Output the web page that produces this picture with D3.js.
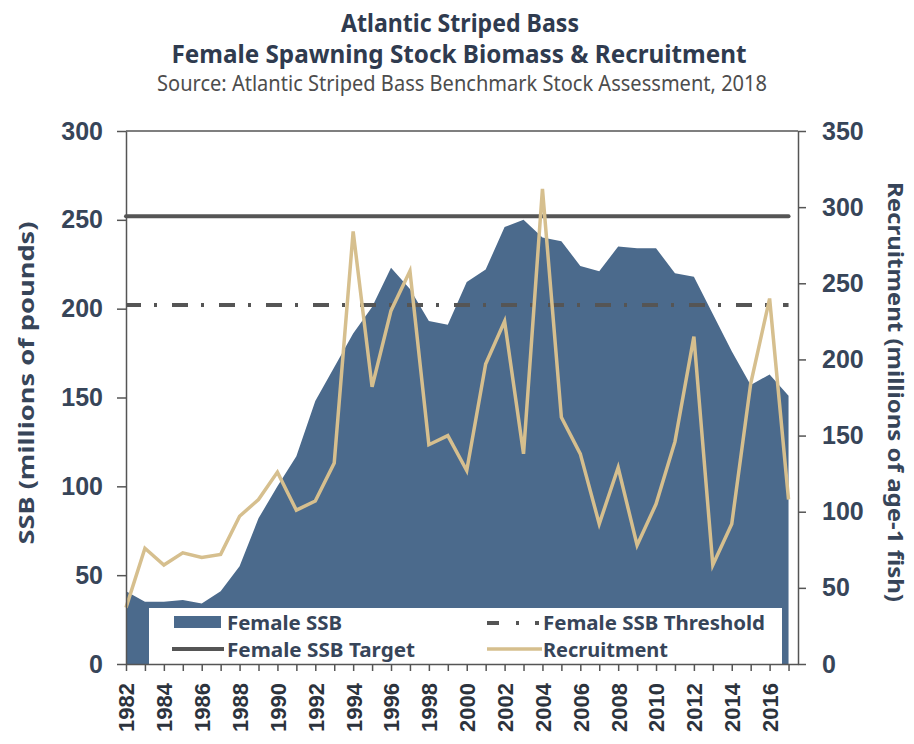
<!DOCTYPE html>
<html>
<head>
<meta charset="utf-8">
<script src="https://cdn.jsdelivr.net/npm/d3@7"></script>
<style>
  body { margin: 0; background: #fff; }
  text { font-family: "Noto Sans", "Liberation Sans", sans-serif; }
</style>
</head>
<body>
<div id="chart"></div>
<script>
// values
const years = d3.range(1982, 2018);
const ssb = [41, 35, 35, 36, 34, 41, 55, 82, 100, 117, 148, 167, 186, 201, 223, 211, 193, 191,
  215, 222, 246, 250, 240, 238, 224, 221, 235, 234, 234, 220, 218, 197, 176, 157, 163, 151];
const recruitment = [37, 76, 65, 73, 70, 72, 97, 108, 126, 101, 107, 132, 284, 182, 232, 258, 144, 150,
  127, 197, 225, 138, 312, 162, 138, 92, 129, 78, 105, 146, 215, 65, 92, 184, 240, 108];
const ssbTarget = 252;
const ssbThreshold = 202;
const leftTicks = [0, 50, 100, 150, 200, 250, 300];
const rightTicks = [0, 50, 100, 150, 200, 250, 300, 350];

const W = 914, H = 744;
const margin = { top: 131, left: 126 };
const width = 672, height = 533;

const areaColor = "#4b6a8c";
const recColor = "#d6bf8e";
const refColor = "#555";
const textColor = "#374559";

const svg = d3.select("#chart").append("svg")
    .attr("width", W)
    .attr("height", H);

// titles
const titles = [
  { t: "Atlantic Striped Bass", y: 32, size: 25, w: 238, weight: 700, fill: "#2f3b4f", cx: 460 },
  { t: "Female Spawning Stock Biomass & Recruitment", y: 63, size: 25, w: 575, weight: 700, fill: "#2f3b4f", cx: 459 },
  { t: "Source: Atlantic Striped Bass Benchmark Stock Assessment, 2018", y: 91, size: 21, w: 610, weight: 400, fill: "#4d4d4d", cx: 462 }
];
svg.selectAll("text.title").data(titles).enter().append("text")
    .attr("class", "title")
    .attr("x", d => d.cx)
    .attr("y", d => d.y)
    .attr("text-anchor", "middle")
    .attr("font-size", d => d.size)
    .attr("font-weight", d => d.weight)
    .attr("fill", d => d.fill)
    .attr("textLength", d => d.w)
    .attr("lengthAdjust", "spacingAndGlyphs")
    .text(d => d.t);

const g = svg.append("g")
    .attr("transform", "translate(" + margin.left + "," + margin.top + ")");

const x = d3.scaleLinear().domain([1982, 2017.5]).range([0, width]);
const yL = d3.scaleLinear().domain([0, 300]).range([height, 0]);
const yR = d3.scaleLinear().domain([0, 350]).range([height, 0]);

// SSB area
const area = d3.area()
    .x((d, i) => x(years[i]))
    .y0(yL(0))
    .y1(d => yL(d));
g.append("path")
    .datum(ssb)
    .attr("fill", areaColor)
    .attr("d", area);

// target & threshold
g.append("line")
    .attr("x1", x(1982)).attr("x2", x(2017))
    .attr("y1", yL(ssbTarget)).attr("y2", yL(ssbTarget))
    .attr("stroke", refColor)
    .attr("stroke-width", 4)
    .attr("stroke-linecap", "round");
g.append("line")
    .attr("x1", x(1982)).attr("x2", x(2017))
    .attr("y1", yL(ssbThreshold)).attr("y2", yL(ssbThreshold))
    .attr("stroke", refColor)
    .attr("stroke-width", 4)
    .attr("stroke-dasharray", "16,13,3,15")
    .attr("stroke-dashoffset", 1);

// recruitment line
const line = d3.line()
    .x((d, i) => x(years[i]))
    .y(d => yR(d));
g.append("path")
    .datum(recruitment)
    .attr("fill", "none")
    .attr("stroke", recColor)
    .attr("stroke-width", 3.5)
    .attr("stroke-linejoin", "miter")
    .attr("d", line);

// legend
const leg = g.append("g").attr("transform", "translate(23," + (height - 56) + ")");
leg.append("rect")
    .attr("width", 633).attr("height", 56)
    .attr("fill", "#fff");
leg.append("rect")
    .attr("x", 25).attr("y", 8).attr("width", 47).attr("height", 12)
    .attr("fill", areaColor);
leg.append("line")
    .attr("x1", 23).attr("x2", 75).attr("y1", 41).attr("y2", 41)
    .attr("stroke", refColor).attr("stroke-width", 4);
leg.append("line")
    .attr("x1", 338).attr("x2", 390).attr("y1", 15).attr("y2", 15)
    .attr("stroke", refColor).attr("stroke-width", 4)
    .attr("stroke-dasharray", "12,17,3,16");
leg.append("line")
    .attr("x1", 338).attr("x2", 393).attr("y1", 41).attr("y2", 41)
    .attr("stroke", recColor).attr("stroke-width", 3.5);
const legItems = [
  { t: "Female SSB", x: 78, y: 22, w: 115 },
  { t: "Female SSB Target", x: 78, y: 48.5, w: 188 },
  { t: "Female SSB Threshold", x: 394, y: 22, w: 222 },
  { t: "Recruitment", x: 394, y: 48.5, w: 125 }
];
leg.selectAll("text").data(legItems).enter().append("text")
    .attr("x", d => d.x).attr("y", d => d.y)
    .attr("font-size", 20)
    .attr("font-weight", 700)
    .attr("fill", textColor)
    .attr("textLength", d => d.w)
    .attr("lengthAdjust", "spacingAndGlyphs")
    .text(d => d.t);

// frame top
g.append("line")
    .attr("x1", 0).attr("x2", width).attr("y1", 0).attr("y2", 0)
    .attr("stroke", refColor).attr("stroke-width", 1.5);

// axes
const axL = g.append("g")
    .call(d3.axisLeft(yL).tickValues(leftTicks).tickSize(9).tickSizeOuter(0).tickPadding(14));
const axR = g.append("g")
    .attr("transform", "translate(" + width + ",0)")
    .call(d3.axisRight(yR).tickValues(rightTicks).tickSize(8).tickSizeOuter(0).tickPadding(16));
const axB = g.append("g")
    .attr("transform", "translate(0," + height + ")")
    .call(d3.axisBottom(x).tickValues(years).tickSize(7).tickSizeOuter(0)
        .tickFormat(d => d % 2 === 0 ? d : ""));

[axL, axR, axB].forEach(a => {
  a.select(".domain").attr("stroke", refColor).attr("stroke-width", 1.5);
  a.selectAll(".tick line").attr("stroke", refColor).attr("stroke-width", 1.5);
});
[axL, axR].forEach(a => {
  a.selectAll(".tick text")
      .attr("font-size", 25)
      .attr("font-weight", 700)
      .attr("fill", textColor)
      .style("font-family", "'Liberation Sans', Arial, sans-serif");
});
axB.selectAll(".tick text")
    .attr("font-size", 22)
    .attr("font-weight", 700)
    .attr("fill", "#2c333d")
    .style("font-family", "'Liberation Sans', Arial, sans-serif")
    .attr("text-anchor", "end")
    .attr("transform", "rotate(-90)")
    .attr("x", -19)
    .attr("y", 0)
    .attr("dy", "0.36em");

// axis titles
svg.append("text")
    .attr("transform", "translate(34,383) rotate(-90)")
    .attr("text-anchor", "middle")
    .attr("font-size", 22)
    .attr("font-weight", 700)
    .attr("fill", textColor)
    .attr("textLength", 323)
    .attr("lengthAdjust", "spacingAndGlyphs")
    .text("SSB (millions of pounds)");
svg.append("text")
    .attr("transform", "translate(888,392) rotate(90)")
    .attr("text-anchor", "middle")
    .attr("font-size", 21)
    .attr("font-weight", 700)
    .attr("fill", textColor)
    .attr("textLength", 420)
    .attr("lengthAdjust", "spacingAndGlyphs")
    .text("Recruitment (millions of age-1 fish)");
</script>
</body>
</html>
